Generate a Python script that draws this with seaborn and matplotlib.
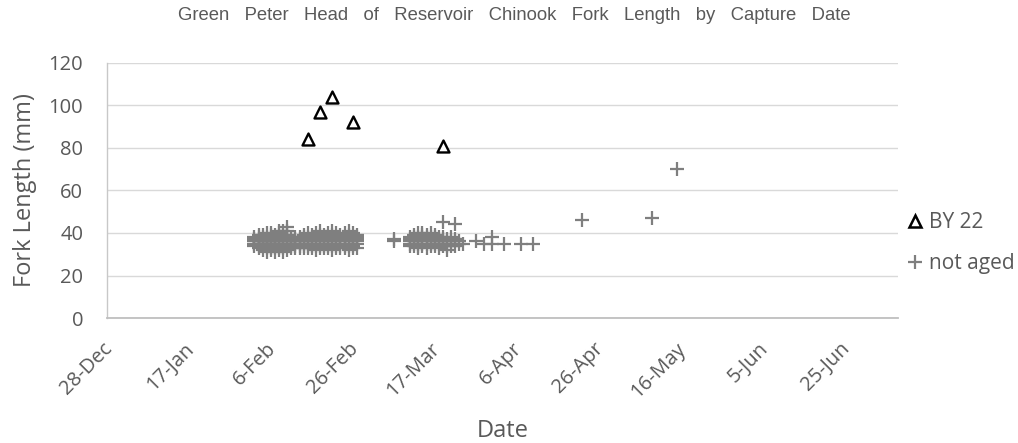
import matplotlib
matplotlib.use("Agg")
import matplotlib.pyplot as plt
import matplotlib.dates as mdates
from matplotlib.lines import Line2D
from matplotlib.ticker import FuncFormatter
from matplotlib.transforms import ScaledTranslation
import pandas as pd
import seaborn as sns

# ---- capture data -------------------------------------------------------
# Fish of known brood year (BY 22)
by22_dates = ["2024-02-15", "2024-02-18", "2024-02-21", "2024-02-26", "2024-03-19"]
by22_lengths = [84, 97, 104, 92, 81]

# Fish that were not aged: capture date -> fork lengths (mm) measured that day
not_aged_dates = [
    "2024-02-02", "2024-02-03", "2024-02-04", "2024-02-05", "2024-02-06",
    "2024-02-07", "2024-02-08", "2024-02-09", "2024-02-10", "2024-02-11",
    "2024-02-12", "2024-02-13", "2024-02-14", "2024-02-15", "2024-02-16",
    "2024-02-17", "2024-02-18", "2024-02-19", "2024-02-20", "2024-02-21",
    "2024-02-22", "2024-02-23", "2024-02-24", "2024-02-25", "2024-02-26",
    "2024-02-27",
    "2024-03-07", "2024-03-11", "2024-03-12", "2024-03-13", "2024-03-14",
    "2024-03-15", "2024-03-16", "2024-03-17", "2024-03-18", "2024-03-19",
    "2024-03-20", "2024-03-21", "2024-03-22", "2024-03-23", "2024-03-24",
    "2024-03-27", "2024-03-29", "2024-03-31", "2024-04-03", "2024-04-07",
    "2024-04-10", "2024-04-22", "2024-05-09", "2024-05-15",
]
not_aged_lengths = [
    [35, 36, 37, 36, 38, 34],
    [33, 35, 36, 37, 38, 39, 36, 34],
    [32, 34, 35, 36, 37, 38, 39, 36, 35],
    [31, 33, 34, 35, 36, 37, 38, 40, 36],
    [32, 33, 35, 36, 37, 38, 39, 40, 34],
    [31, 33, 34, 35, 36, 37, 38, 39, 36, 35],
    [32, 34, 35, 36, 37, 38, 40, 41, 33],
    [31, 33, 34, 36, 37, 38, 39, 41, 35],
    [32, 34, 35, 36, 37, 38, 39, 41, 43],
    [33, 34, 35, 36, 37, 38, 35],
    [33, 34, 35, 36, 37, 38, 36],
    [33, 35, 36, 37, 38, 34],
    [33, 34, 35, 36, 37, 39, 38],
    [33, 34, 35, 36, 37, 38, 40],
    [33, 35, 36, 37, 38, 39, 34],
    [32, 34, 35, 36, 37, 38, 40],
    [33, 34, 35, 36, 37, 39, 41],
    [33, 35, 36, 37, 38, 39, 34],
    [33, 34, 35, 36, 37, 38, 40],
    [32, 34, 35, 36, 37, 38, 39, 41],
    [33, 34, 35, 36, 37, 38, 40],
    [33, 35, 36, 37, 38, 39, 34],
    [33, 34, 35, 36, 37, 38, 40],
    [32, 34, 35, 36, 37, 39, 41],
    [33, 34, 35, 36, 37, 38, 40],
    [33, 35, 36, 37, 38, 39],
    [37, 36],
    [35, 36, 37, 38, 34],
    [34, 35, 36, 37, 38, 39],
    [33, 34, 35, 36, 37, 38, 40],
    [34, 35, 36, 37, 38, 39, 40],
    [33, 35, 36, 37, 38, 39],
    [34, 35, 36, 37, 38, 40],
    [34, 35, 36, 37, 38, 39],
    [33, 35, 36, 37, 38],
    [34, 35, 36, 37, 38, 45],
    [32, 34, 35, 36, 37],
    [34, 35, 36, 38],
    [34, 36, 37, 44],
    [35, 36],
    [35],
    [36],
    [35],
    [38, 35],
    [35],
    [35],
    [35],
    [46],
    [47],
    [70],
]

series_labels = ["BY 22", "not aged"]
y_ticks = [0, 20, 40, 60, 80, 100, 120]
x_start, x_end = "2023-12-28", "2024-07-08"

# ---- tidy tables ---------------------------------------------------------
by22 = pd.DataFrame({"date": pd.to_datetime(by22_dates), "length": by22_lengths})
not_aged = pd.DataFrame(
    {"date": pd.to_datetime(not_aged_dates), "length": not_aged_lengths}
).explode("length")
not_aged["length"] = not_aged["length"].astype(float)

# ---- styling ---------------------------------------------------------------
sns.set_theme(style="white")
plt.rcParams["font.family"] = ["Open Sans", "DejaVu Sans"]
TEXT = "#595959"
GRID = "#d9d9d9"
PLUS = "#7f7f7f"

fig, ax = plt.subplots(figsize=(10.18, 4.43), dpi=100)
fig.subplots_adjust(left=0.105, right=0.882, bottom=0.282, top=0.8585)

sns.scatterplot(data=not_aged, x="date", y="length", marker="+", color=PLUS,
                s=95, linewidth=1.6, ax=ax, legend=False, zorder=3)
sns.scatterplot(data=by22, x="date", y="length", marker="^", color="white",
                edgecolor="black", s=74, linewidth=1.7, ax=ax, legend=False,
                zorder=4)

# axes
ax.set_ylim(0, 120)
ax.set_yticks(y_ticks)
ax.set_xlim(pd.Timestamp(x_start), pd.Timestamp(x_end))
ax.set_xticks(pd.date_range(x_start, periods=10, freq="20D"))
ax.xaxis.set_major_formatter(
    FuncFormatter(lambda v, _: f"{mdates.num2date(v).day}-{mdates.num2date(v):%b}")
)
ax.yaxis.grid(True, color=GRID, linewidth=1.0)
ax.set_axisbelow(True)
for side in ("top", "right"):
    ax.spines[side].set_visible(False)
ax.spines["left"].set_color("#c8c8c8")
ax.spines["bottom"].set_color("#bfbfbf")
ax.spines["left"].set_linewidth(1.0)
ax.spines["bottom"].set_linewidth(1.3)

ax.tick_params(axis="y", length=0, pad=17, labelsize=14.5, labelcolor=TEXT)
ax.tick_params(axis="x", length=0, pad=20, labelsize=14.5, labelcolor=TEXT)
shift = ScaledTranslation(1.5 / 72, 0, fig.dpi_scale_trans)
for lbl in ax.get_xticklabels():
    lbl.set_rotation(45)
    lbl.set_ha("right")
    lbl.set_va("center")
    lbl.set_rotation_mode("anchor")
    lbl.set_transform(lbl.get_transform() + shift)

ax.set_xlabel("Date", fontsize=17, color=TEXT)
ax.xaxis.set_label_coords(0.5, -0.395)
ax.set_ylabel("Fork Length (mm)", fontsize=17, color=TEXT)
ax.yaxis.set_label_coords(-0.088, 0.5)
fig.suptitle("Green   Peter   Head   of   Reservoir   Chinook   Fork   Length   by   Capture   Date",
             x=0.505, y=0.984, fontsize=13.3, color=TEXT,
             family=["Liberation Sans Narrow", "Liberation Sans", "DejaVu Sans"])

handles = [
    Line2D([], [], linestyle="none", marker="^", markersize=8,
           markerfacecolor="white", markeredgecolor="black", markeredgewidth=1.8),
    Line2D([], [], linestyle="none", marker="+", markersize=10,
           markeredgecolor=PLUS, markeredgewidth=1.6),
]
leg = ax.legend(handles, series_labels, loc="center left",
                bbox_to_anchor=(1.0, 0.293), frameon=False, fontsize=15,
                labelcolor=TEXT, handlelength=0.7, handletextpad=0.35,
                labelspacing=0.95, borderaxespad=0.05)

fig.savefig("out.png", dpi=100)
